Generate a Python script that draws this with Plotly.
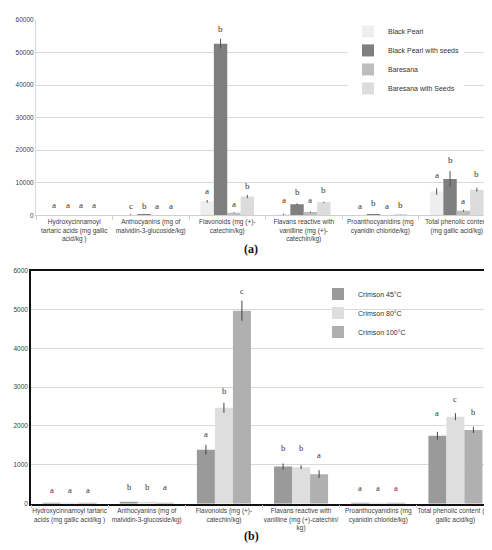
import plotly.graph_objects as go

# ---------------- data ----------------
categories = ["Hydroxycinnamoyl", "Anthocyanins", "Flavonoids", "Flavans", "Proanthocyanidins", "Total phenolic"]

ticktext_a = [
    "Hydroxycinnamoyl<br>tartaric acids (mg gallic<br>acid/kg )",
    "Anthocyanins (mg of<br>malvidin-3-glucoside/kg)",
    "Flavonoids (mg (+)-<br>catechin/kg)",
    "Flavans reactive with<br>vanilline (mg (+)-<br>catechin/kg)",
    "Proanthocyanidins (mg<br>cyanidin chloride/kg)",
    "Total phenolic content<br>(mg gallic acid/kg)",
]
ticktext_b = [
    "Hydroxycinnamoyl tartaric<br>acids (mg gallic acid/kg )",
    "Anthocyanins (mg of<br>malvidin-3-glucoside/kg)",
    "Flavonoids (mg (+)-<br>catechin/kg)",
    "Flavans reactive with<br>vanilline (mg (+)-catechin/<br>kg)",
    "Proanthocyanidins (mg<br>cyanidin chloride/kg)",
    "Total phenolic content (mg<br>gallic acid/kg)",
]

# panel (a)
series_a_names = ["Black Pearl", "Black Pearl with seeds", "Baresana", "Baresana with Seeds"]
black_pearl = [30, 120, 4300, 200, 40, 7300]
black_pearl_seeds = [20, 300, 52700, 3400, 400, 11200]
baresana = [25, 15, 800, 1000, 20, 1400]
baresana_seeds = [15, 10, 5800, 4000, 150, 7900]

black_pearl_err = [0, 300, 400, 300, 0, 1000]
black_pearl_seeds_err = [0, 50, 1500, 300, 50, 2400]
baresana_err = [0, 0, 150, 200, 0, 300]
baresana_seeds_err = [0, 0, 500, 200, 30, 600]

black_pearl_letters = ["a", "c", "a", "a", "a", "a"]
black_pearl_seeds_letters = ["a", "b", "b", "b", "b", "b"]
baresana_letters = ["a", "a", "a", "a", "a", "a"]
baresana_seeds_letters = ["a", "a", "b", "b", "b", "b"]

black_pearl_letter_y = [3300, 3000, 7400, 4800, 2800, 12400]
black_pearl_seeds_letter_y = [3300, 3000, 57200, 7200, 3800, 17000]
baresana_letter_y = [3300, 3000, 3600, 4800, 2800, 4500]
baresana_seeds_letter_y = [3300, 3000, 9100, 7700, 3300, 12700]

# panel (b)
series_b_names = ["Crimson 45°C", "Crimson 80°C", "Crimson 100°C"]
crimson_45 = [5, 40, 1390, 955, 3, 1750]
crimson_80 = [5, 35, 2470, 940, 3, 2240]
crimson_100 = [5, 25, 4970, 760, 3, 1900]

crimson_45_err = [0, 0, 125, 80, 0, 100]
crimson_80_err = [0, 0, 130, 50, 0, 90]
crimson_100_err = [0, 0, 260, 100, 0, 80]

crimson_45_letters = ["a", "b", "a", "b", "a", "a"]
crimson_80_letters = ["a", "b", "b", "b", "a", "c"]
crimson_100_letters = ["a", "a", "c", "a", "a", "b"]

crimson_45_letter_y = [350, 435, 1800, 1430, 410, 2330]
crimson_80_letter_y = [350, 435, 2900, 1430, 410, 2690]
crimson_100_letter_y = [350, 420, 5470, 1260, 410, 2370]

# ---------------- styling ----------------
W, H = 492, 550
BARGAP = 0.3
colors_a = ["#eeeeee", "#7f7f7f", "#bdbdbd", "#dcdcdc"]
colors_b = ["#9a9a9a", "#dedede", "#b0b0b0"]
xdom_a = [28 / W, 487 / W]
ydom_a = [(H - 206) / H, (H - 8) / H]
xdom_b = [23 / W, 486 / W]
ydom_b = [(H - 498) / H, (H - 262) / H]

fig = go.Figure()

vals_a = [black_pearl, black_pearl_seeds, baresana, baresana_seeds]
errs_a = [black_pearl_err, black_pearl_seeds_err, baresana_err, baresana_seeds_err]
lets_a = [black_pearl_letters, black_pearl_seeds_letters, baresana_letters, baresana_seeds_letters]
lety_a = [black_pearl_letter_y, black_pearl_seeds_letter_y, baresana_letter_y, baresana_seeds_letter_y]

for name, v, e, c in zip(series_a_names, vals_a, errs_a, colors_a):
    fig.add_trace(go.Bar(
        x=categories, y=v, name=name, marker=dict(color=c, line=dict(width=0)),
        error_y=dict(type="data", array=e, color="#555555", thickness=1, width=0),
        xaxis="x", yaxis="y", legend="legend", offsetgroup=name,
    ))

vals_b = [crimson_45, crimson_80, crimson_100]
errs_b = [crimson_45_err, crimson_80_err, crimson_100_err]
lets_b = [crimson_45_letters, crimson_80_letters, crimson_100_letters]
lety_b = [crimson_45_letter_y, crimson_80_letter_y, crimson_100_letter_y]

for name, v, e, c in zip(series_b_names, vals_b, errs_b, colors_b):
    fig.add_trace(go.Bar(
        x=categories, y=v, name=name, marker=dict(color=c, line=dict(width=0)),
        error_y=dict(type="data", array=e, color="#444444", thickness=1, width=0),
        xaxis="x2", yaxis="y2", legend="legend2", offsetgroup=name,
    ))

# significance letters as annotations centred over each bar
def add_letters(letters_list, ys_list, xref, yref, xdom, size):
    n = len(letters_list)
    cat_px = (xdom[1] - xdom[0]) * W / len(categories)
    bw = cat_px * (1 - BARGAP) / n
    for i, (lets, ys) in enumerate(zip(letters_list, ys_list)):
        shift = (i - (n - 1) / 2) * bw
        for cat, t, yv in zip(categories, lets, ys):
            fig.add_annotation(x=cat, y=yv, xref=xref, yref=yref, text=t, showarrow=False,
                               xshift=shift, yanchor="middle",
                               font=dict(family="Liberation Serif", size=size, color="#333333"))

add_letters(lets_a, lety_a, "x", "y", xdom_a, 9)
add_letters(lets_b, lety_b, "x2", "y2", xdom_b, 8.5)

tickfont = dict(family="Liberation Sans", size=6.5, color="#404040")

fig.update_layout(
    width=W, height=H, margin=dict(l=0, r=0, t=0, b=0),
    paper_bgcolor="white", plot_bgcolor="white",
    barmode="group", bargap=BARGAP, bargroupgap=0,
    font=dict(family="Liberation Sans", size=7, color="#404040"),
    xaxis=dict(domain=xdom_a, anchor="y", type="category", tickvals=categories, ticktext=ticktext_a,
               tickangle=0, automargin=False,
               showline=True, linecolor="#d0d0d0", linewidth=1, ticks="outside", tickson="boundaries",
               ticklen=4, tickcolor="#d0d0d0", tickfont=tickfont, showgrid=False, fixedrange=True),
    yaxis=dict(domain=ydom_a, anchor="x", range=[0, 60000], dtick=10000, tickformat="d",
               showgrid=True, gridcolor="#d9d9d9", gridwidth=1, zeroline=False,
               showline=True, linecolor="#d9d9d9", ticks="", tickfont=tickfont),
    xaxis2=dict(domain=xdom_b, anchor="y2", type="category", tickvals=categories, ticktext=ticktext_b,
                tickangle=0, automargin=False,
                showline=True, mirror=True, linecolor="#111111", linewidth=1.5, ticks="outside",
                tickson="boundaries", ticklen=3, tickcolor="#cccccc", tickfont=tickfont, showgrid=False),
    yaxis2=dict(domain=ydom_b, anchor="x2", range=[0, 6000], dtick=1000, tickformat="d",
                showgrid=True, gridcolor="#d9d9d9", gridwidth=1, zeroline=False,
                showline=True, mirror=True, linecolor="#111111", linewidth=1.5, ticks="", tickfont=tickfont),
    legend=dict(x=340 / W, y=(H - 5) / H, xanchor="left", yanchor="top", bgcolor="white",
                font=dict(family="Liberation Sans", size=7, color="#333333"), tracegroupgap=0),
    legend2=dict(x=310 / W, y=(H - 271) / H, xanchor="left", yanchor="top", bgcolor="rgba(0,0,0,0)",
                 font=dict(family="Liberation Sans", size=7, color="#333333"), tracegroupgap=0),
    showlegend=True,
)

fig.add_annotation(x=243 / W, y=(H - 240) / H, xref="paper", yref="paper", text="<b>(a)</b>",
                   showarrow=False, font=dict(family="Liberation Serif", size=12, color="#111111"))
fig.add_annotation(x=243 / W, y=(H - 540) / H, xref="paper", yref="paper", text="<b>(b)</b>",
                   showarrow=False, font=dict(family="Liberation Serif", size=12, color="#111111"))

fig.write_html("out.html")
